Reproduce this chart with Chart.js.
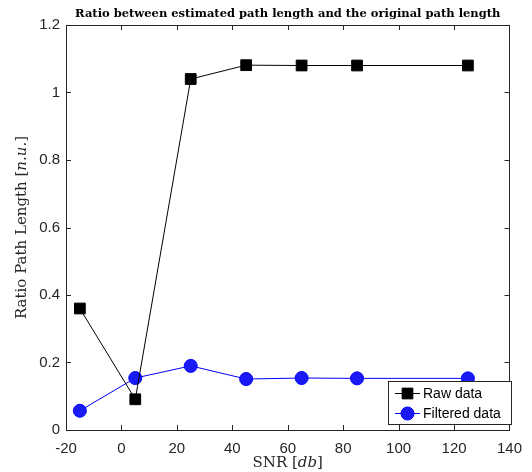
<!DOCTYPE html>
<html>
<head>
<meta charset="utf-8">
<script src="https://cdn.jsdelivr.net/npm/chart.js@4"></script>
<style>
  html, body { margin: 0; padding: 0; background: #fff; }
  #wrap { width: 532px; height: 472px; }
</style>
</head>
<body>
<div id="wrap"><canvas id="c" width="532" height="472"></canvas></div>
<script>
// values
var snr = [-15, 5, 25, 45, 65, 85, 125];
var rawRatio = [0.36, 0.091, 1.04, 1.081, 1.08, 1.08, 1.08];
var filteredRatio = [0.057, 0.154, 0.19, 0.151, 0.154, 0.153, 0.153];
var xTicks = [-20, 0, 20, 40, 60, 80, 100, 120, 140];
var yTicks = [0, 0.2, 0.4, 0.6, 0.8, 1, 1.2];

var toPoints = function(xs, ys) {
  return xs.map(function(x, i) { return {x: x, y: ys[i]} })
}

var axisColor = '#262626'
var serif = '"DejaVu Serif", "Liberation Serif", serif'
var sans = '"Liberation Sans", Arial, sans-serif'

// box, inward ticks, title, axis labels and the legend box
var matlabLook = {
  id: 'matlabLook',
  afterDraw: function(chart) {
    var ctx = chart.ctx
    var a = chart.chartArea
    var xs = chart.scales.x, ys = chart.scales.y
    ctx.save()
    ctx.strokeStyle = axisColor
    ctx.lineWidth = 1
    ctx.strokeRect(Math.round(a.left) + 0.5, Math.round(a.top) + 0.5,
      Math.round(a.right - a.left), Math.round(a.bottom - a.top))
    ctx.beginPath()
    xTicks.forEach(function(v) {
      var px = Math.round(xs.getPixelForValue(v)) + 0.5
      ctx.moveTo(px, a.bottom); ctx.lineTo(px, a.bottom - 5)
      ctx.moveTo(px, a.top); ctx.lineTo(px, a.top + 5)
    })
    yTicks.forEach(function(v) {
      var py = Math.round(ys.getPixelForValue(v)) + 0.5
      ctx.moveTo(a.left, py); ctx.lineTo(a.left + 5, py)
      ctx.moveTo(a.right, py); ctx.lineTo(a.right - 5, py)
    })
    ctx.stroke()

    var cx = (a.left + a.right) / 2
    // title
    ctx.fillStyle = '#000'
    ctx.font = 'bold 11.5px ' + serif
    ctx.textAlign = 'center'
    ctx.textBaseline = 'alphabetic'
    ctx.fillText('Ratio between estimated path length and the original path length', cx, 17)

    // x label: SNR [db]
    ctx.fillStyle = axisColor
    drawMixed(ctx, [['SNR [', ''], ['db', 'italic '], [']', '']], cx, 467, 15)

    // y label
    ctx.save()
    ctx.translate(26, (a.top + a.bottom) / 2)
    ctx.rotate(-Math.PI / 2)
    drawMixed(ctx, [['Ratio Path Length [', ''], ['n.u.', 'italic '], [']', '']], 0, 0, 15)
    ctx.restore()

    // legend
    var lx = 388.5, ly = 381.5, lw = 123, lh = 43
    ctx.fillStyle = '#fff'
    ctx.fillRect(lx, ly, lw, lh)
    ctx.strokeStyle = axisColor
    ctx.strokeRect(lx, ly, lw, lh)
    chart.data.datasets.forEach(function(ds, i) {
      var ry = 393.5 + i * 20
      ctx.strokeStyle = ds.borderColor
      ctx.lineWidth = 1
      ctx.beginPath(); ctx.moveTo(395, ry); ctx.lineTo(420, ry); ctx.stroke()
      ctx.fillStyle = ds.pointBackgroundColor
      ctx.strokeStyle = ds.pointBorderColor
      ctx.beginPath()
      if (ds.pointStyle === 'rect') {
        var s = ds.pointRadius * Math.SQRT1_2
        ctx.rect(407.5 - s, ry - s, 2 * s, 2 * s)
      } else {
        ctx.arc(407.5, ry, ds.pointRadius, 0, Math.PI * 2)
      }
      ctx.fill(); ctx.stroke()
      ctx.fillStyle = '#000'
      ctx.font = '14px ' + sans
      ctx.textAlign = 'left'
      ctx.textBaseline = 'middle'
      ctx.fillText(ds.label, 423, ry + 1)
    })
    ctx.restore()
  }
}

function drawMixed(ctx, parts, cx, y, size) {
  var widths = parts.map(function(p) {
    ctx.font = p[1] + size + 'px ' + serif
    return ctx.measureText(p[0]).width
  })
  var total = widths.reduce(function(s, w) { return s + w }, 0)
  var x = cx - total / 2
  ctx.textAlign = 'left'
  ctx.textBaseline = 'alphabetic'
  parts.forEach(function(p, i) {
    ctx.font = p[1] + size + 'px ' + serif
    ctx.fillText(p[0], x, y)
    x += widths[i]
  })
}

new Chart(document.getElementById('c'), {
  type: 'scatter',
  data: {
    datasets: [
      {
        label: 'Raw data',
        data: toPoints(snr, rawRatio),
        showLine: true,
        borderColor: '#000000',
        borderWidth: 1,
        pointStyle: 'rect',
        pointRadius: 7.6,
        pointBackgroundColor: '#000000',
        pointBorderColor: '#000000',
        pointBorderWidth: 1,
        clip: false
      },
      {
        label: 'Filtered data',
        data: toPoints(snr, filteredRatio),
        showLine: true,
        borderColor: '#0000ff',
        borderWidth: 1,
        pointStyle: 'circle',
        pointRadius: 6.5,
        pointBackgroundColor: '#1a1af5',
        pointBorderColor: '#0000ff',
        pointBorderWidth: 1,
        clip: false
      }
    ]
  },
  options: {
    responsive: false,
    animation: false,
    devicePixelRatio: 1,
    layout: { padding: { top: 25, right: 15, left: 0, bottom: 0 } },
    plugins: {
      legend: { display: false },
      title: { display: false },
      tooltip: { enabled: false }
    },
    scales: {
      x: {
        type: 'linear',
        min: -20, max: 140,
        afterBuildTicks: function(s) { s.ticks = xTicks.map(function(v) { return {value: v} }) },
        afterFit: function(s) { s.height = 42 },
        grid: { display: false, drawTicks: false },
        border: { display: false },
        ticks: { color: axisColor, font: { family: sans, size: 15 }, padding: 10 }
      },
      y: {
        type: 'linear',
        min: 0, max: 1.2,
        afterBuildTicks: function(s) { s.ticks = yTicks.map(function(v) { return {value: v} }) },
        afterFit: function(s) { s.width = 66 },
        grid: { display: false, drawTicks: false },
        border: { display: false },
        ticks: {
          color: axisColor, font: { family: sans, size: 15 }, padding: 6,
          callback: function(v) { return String(+v.toFixed(1)) }
        }
      }
    }
  },
  plugins: [matlabLook]
});
</script>
</body>
</html>
